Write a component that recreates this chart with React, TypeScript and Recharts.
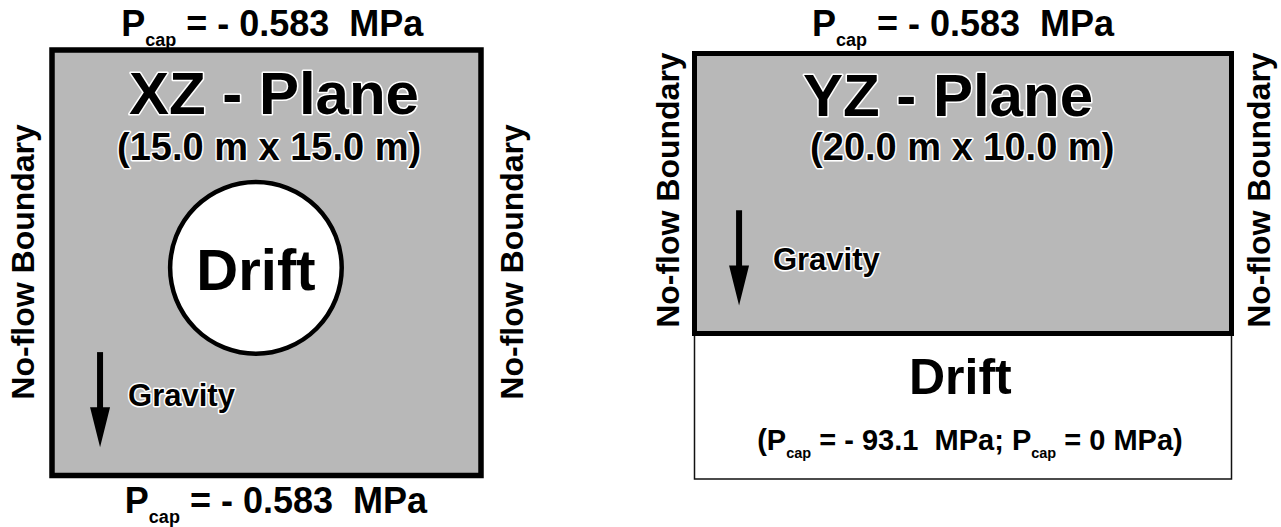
import React from 'react';
import { ComposedChart, XAxis, YAxis, ReferenceArea, ReferenceDot, ReferenceLine } from 'recharts';

// ---- data ----
const planeNames = ['XZ - Plane', 'YZ - Plane'];
const planeSizeLabels = ['(15.0 m x 15.0 m)', '(20.0 m x 10.0 m)'];
const planeWidths = [15, 20]; // m
const planeHeights = [15, 10]; // m
const topPcap = [-0.583, -0.583]; // MPa, top boundary of each plane
const bottomPcapXZ = -0.583; // MPa, bottom boundary of XZ plane
const driftPcap = [-93.1, 0]; // MPa, drift boundary values (YZ plane)
const driftRadius = 3.0; // m (XZ plane drift circle)
const driftCenter = [7.13, 7.32]; // m (x, z) in XZ plane
const driftDepth = 5.2; // m, drift region below YZ plane
const sideLabel = 'No-flow Boundary';
const driftLabel = 'Drift';
const gravityLabel = 'Gravity';

const FONT = '"Liberation Sans", Arial, Helvetica, sans-serif';
const GRAY = '#b8b8b8';

const fmt = (v: number) => (v < 0 ? `- ${Math.abs(v)}` : `${v}`);

type Seg = { t: string; sub?: boolean };

const pcapSegs = (v: number, tail = '  MPa'): Seg[] => [
  { t: 'P' },
  { t: 'cap', sub: true },
  { t: ` = ${fmt(v)}${tail}` },
];

function Txt(props: any) {
  const { cx, cy, segs, size, anchor = 'middle', rotate = 0, halo = false, sx = 1, vshift = 0 } = props;
  if (cx == null || cy == null) return null;
  const subSize = size * 0.5;
  const shift = size * 0.28;
  let down = false;
  return (
    <g transform={`translate(${cx},${cy}) rotate(${rotate}) scale(${sx},1)`}>
      <text
        x={0}
        y={vshift * size}
        textAnchor={anchor}
        fontFamily={FONT}
        fontWeight={700}
        fontSize={size}
        fill="#000"
        stroke={halo ? '#fff' : 'none'}
        strokeWidth={halo ? 3 : 0}
        strokeLinejoin="round"
        paintOrder="stroke"
        style={{ whiteSpace: 'pre' }}
      >
        {(segs as Seg[]).map((s, i) => {
          let d: number | undefined = undefined;
          if (s.sub && !down) { d = shift; down = true; }
          else if (!s.sub && down) { d = -shift; down = false; }
          return (
            <tspan key={i} dy={d} fontSize={s.sub ? subSize : size}>
              {s.t}
            </tspan>
          );
        })}
      </text>
    </g>
  );
}

const label = (x: number, y: number, segs: Seg[], size: number, extra: any = {}) => (
  <ReferenceDot
    x={x}
    y={y}
    ifOverflow="visible"
    shape={(p: any) => <Txt cx={p.cx} cy={p.cy} segs={segs} size={size} {...extra} />}
  />
);

const arrowHead = (x: number, y: number) => (
  <ReferenceDot
    x={x}
    y={y}
    ifOverflow="visible"
    shape={(p: any) => (
      <polygon
        points={`${p.cx - 10},${p.cy - 40} ${p.cx + 10},${p.cy - 40} ${p.cx},${p.cy}`}
        fill="#000"
      />
    )}
  />
);

function XZPanel() {
  const W = planeWidths[0];
  const H = planeHeights[0];
  const margin = { top: 50, right: 159, bottom: 51.5, left: 52 };
  const chartW = 640;
  const pxPerM = (chartW - margin.left - margin.right) / W;
  return (
    <ComposedChart width={chartW} height={527} margin={margin} data={[]}>
      <XAxis type="number" dataKey="x" domain={[0, W]} hide allowDataOverflow />
      <YAxis type="number" dataKey="y" domain={[0, H]} hide allowDataOverflow />
      <ReferenceArea x1={0} x2={W} y1={0} y2={H} fill={GRAY} fillOpacity={1} stroke="#000" strokeWidth={5.5} ifOverflow="visible" />
      <ReferenceDot
        x={driftCenter[0]}
        y={driftCenter[1]}
        r={driftRadius * pxPerM}
        fill="#fff"
        fillOpacity={1}
        stroke="#000"
        strokeWidth={4.5}
        ifOverflow="visible"
      />
      <ReferenceLine segment={[{ x: 1.68, y: 4.35 }, { x: 1.68, y: 2.3 }]} stroke="#000" strokeWidth={6} ifOverflow="visible" />
      {arrowHead(1.68, 1.0)}
      {label(7.7, 15.49, pcapSegs(topPcap[0]), 36)}
      {label(7.83, -1.32, pcapSegs(bottomPcapXZ), 36)}
      {label(7.76, 12.74, [{ t: planeNames[0] }], 60, { halo: true })}
      {label(7.59, 11.12, [{ t: planeSizeLabels[0] }], 38, { halo: true })}
      {label(driftCenter[0], 6.54, [{ t: driftLabel }], 58)}
      {label(2.66, 2.45, [{ t: gravityLabel }], 31, { anchor: 'start', halo: true })}
      {label(-1.05, 7.53, [{ t: sideLabel }], 32, { rotate: -90, vshift: 0.36 })}
      {label(16.05, 7.53, [{ t: sideLabel }], 32, { rotate: -90, vshift: 0.36 })}
    </ComposedChart>
  );
}

function YZPanel() {
  const W = planeWidths[1];
  const H = planeHeights[1];
  const margin = { top: 53.5, right: 49.5, bottom: 48, left: 54.5 };
  return (
    <ComposedChart width={641} height={527} margin={margin} data={[]}>
      <XAxis type="number" dataKey="x" domain={[0, W]} hide allowDataOverflow />
      <YAxis type="number" dataKey="y" domain={[-driftDepth, H]} hide allowDataOverflow />
      <ReferenceArea x1={0} x2={W} y1={-driftDepth} y2={0} fill="#fff" fillOpacity={1} stroke="#111" strokeWidth={1.5} ifOverflow="visible" />
      <ReferenceArea x1={0} x2={W} y1={0} y2={H} fill={GRAY} fillOpacity={1} stroke="#000" strokeWidth={5} ifOverflow="visible" />
      <ReferenceLine segment={[{ x: 1.66, y: 4.4 }, { x: 1.66, y: 2.3 }]} stroke="#000" strokeWidth={6} ifOverflow="visible" />
      {arrowHead(1.66, 1.0)}
      {label(10.0, 10.63, pcapSegs(topPcap[1]), 36)}
      {label(9.44, 7.76, [{ t: planeNames[1] }], 60, { halo: true })}
      {label(9.97, 6.19, [{ t: planeSizeLabels[1] }], 38, { halo: true })}
      {label(2.92, 2.25, [{ t: gravityLabel }], 31, { anchor: 'start', halo: true })}
      {label(9.9, -2.15, [{ t: driftLabel }], 50)}
      {label(
        10.26,
        -4.15,
        [
          { t: '(' },
          ...pcapSegs(driftPcap[0], '  MPa; '),
          ...pcapSegs(driftPcap[1], ' MPa)'),
        ],
        29
      )}
      {label(-0.99, 5.12, [{ t: sideLabel }], 32, { rotate: -90, vshift: 0.36 })}
      {label(20.99, 5.12, [{ t: sideLabel }], 32, { rotate: -90, vshift: 0.36 })}
    </ComposedChart>
  );
}

export default function App() {
  return (
    <div style={{ position: 'absolute', left: 0, top: 0, width: 1281, height: 527, background: '#fff' }}>
      <div style={{ position: 'absolute', left: 0, top: 0 }}>
        <XZPanel />
      </div>
      <div style={{ position: 'absolute', left: 640, top: 0 }}>
        <YZPanel />
      </div>
    </div>
  );
}
